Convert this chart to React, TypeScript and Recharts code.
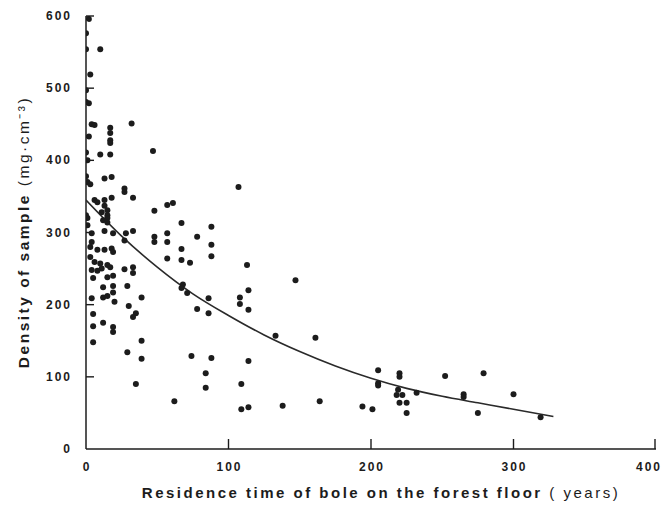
import React from 'react';
import { ScatterChart, Scatter, XAxis, YAxis } from 'recharts';

// residence time (years) and density (mg/cm3) of each sample
const sampleYears = [
  2, 0, 0, 10, 3, 0, 0, 2, 4, 6, 2, 32, 17, 17, 17, 17, 47, 0, 10, 17,
  1, 0, 1, 3, 13, 18, 27, 27, 33, 57, 61, 6, 8, 13, 13, 15, 15, 15, 18, 11,
  0, 1, 48, 1, 12, 15, 13, 4, 19, 28, 33, 48, 48, 57, 57, 27, 4, 3, 8, 13,
  18, 19, 3, 57, 6, 10, 11, 15, 17, 4, 8, 27, 33, 33, 5, 15, 19, 12, 19, 29,
  4, 12, 15, 19, 39, 20, 30, 5, 35, 33, 12, 5, 19, 19, 5, 39, 29, 39, 35,
  67, 88, 78, 67, 88, 67, 73, 88, 113, 68, 67, 71, 86, 78, 86, 114, 108, 108, 114,
  107, 133, 74, 88, 114, 84, 84, 109, 62, 109, 114, 147, 161, 138, 164, 194, 201,
  205, 205, 205, 220, 220, 219, 218, 222, 220, 225, 225, 232, 252, 279, 265, 265,
  300, 275, 319,
];
const sampleDensity = [
  596, 576, 554, 554, 519, 497, 481, 479, 450, 449, 433, 451, 445, 438, 428, 424, 413, 411, 408, 408,
  400, 378, 370, 367, 375, 377, 361, 356, 348, 338, 341, 345, 342, 345, 337, 331, 324, 320, 348, 328,
  324, 320, 330, 310, 317, 314, 302, 299, 299, 299, 302, 294, 287, 299, 287, 289, 287, 280, 276, 276,
  278, 273, 266, 264, 259, 257, 250, 255, 252, 248, 247, 249, 252, 244, 237, 238, 240, 224, 226, 226,
  209, 210, 212, 217, 210, 204, 198, 187, 188, 183, 175, 170, 169, 162, 148, 150, 134, 125, 90,
  313, 308, 294, 277, 283, 262, 258, 267, 255, 228, 223, 216, 209, 194, 188, 220, 210, 201, 193,
  363, 157, 129, 126, 122, 105, 85, 90, 66, 55, 58, 234, 154, 60, 66, 59, 55,
  109, 91, 88, 105, 100, 82, 75, 75, 64, 64, 50, 78, 101, 105, 76, 72,
  76, 50, 44,
];

// fitted decay curve, read at regular points along the drawn line
const curveYears = [0, 25, 50, 75, 100, 125, 150, 175, 200, 225, 250, 275, 300, 328];
const curveDensity = [345, 295, 252, 215, 185, 158, 135, 115, 98, 84, 73, 64, 55, 45];

const xTicks = [0, 100, 200, 300, 400];
const yTicks = [0, 100, 200, 300, 400, 500, 600];

const samples = sampleYears.map((t, i) => ({ t, v: sampleDensity[i] }));
const curve = curveYears.map((t, i) => ({ t, v: curveDensity[i] }));

const INK = '#1c1c1c';
const FONT = '"Liberation Sans", Arial, Helvetica, sans-serif';

const YTick = (props: any) => {
  const { x, y, payload } = props;
  return (
    <g>
      {payload.value > 0 && (
        <line x1={x} x2={x + 8} y1={y} y2={y} stroke={INK} strokeWidth={1.4} />
      )}
      <text
        x={x - 14}
        y={y}
        dy={4}
        textAnchor="end"
        fontFamily={FONT}
        fontWeight={700}
        fontSize={12}
        letterSpacing={2}
        fill={INK}
      >
        {payload.value}
      </text>
    </g>
  );
};

const XTick = (props: any) => {
  const { x, y, payload } = props;
  // the last label sits against the right edge of the figure
  const shift = payload.value === 400 ? -6 : 1;
  return (
    <g>
      {payload.value > 0 && (
        <line x1={x} x2={x} y1={y} y2={y - 10} stroke={INK} strokeWidth={1.4} />
      )}
      <text
        x={x + shift}
        y={y + 22}
        textAnchor="middle"
        fontFamily={FONT}
        fontWeight={700}
        fontSize={12}
        letterSpacing={2}
        fill={INK}
      >
        {payload.value}
      </text>
    </g>
  );
};

const YTitle = () => (
  <text
    transform="translate(29, 232) rotate(-90)"
    textAnchor="middle"
    fontFamily={FONT}
    fontSize={15.5}
    letterSpacing={2.5}
    fill={INK}
  >
    <tspan fontWeight={700}>Density of sample </tspan>
    <tspan fontWeight={400}>(mg·cm⁻³)</tspan>
  </text>
);

const XTitle = () => (
  <text
    x={381}
    y={498}
    textAnchor="middle"
    fontFamily={FONT}
    fontSize={15}
    letterSpacing={2.5}
    fill={INK}
  >
    <tspan fontWeight={700}>Residence time of bole on the forest floor </tspan>
    <tspan fontWeight={400}>( years)</tspan>
  </text>
);

const Dot = (props: any) => {
  const { cx, cy } = props;
  if (cx == null || cy == null) return null;
  return <circle cx={cx} cy={cy} r={3} fill={INK} />;
};

export default function App() {
  return (
    <div style={{ position: 'absolute', left: 0, top: 0, background: '#fff' }}>
      <ScatterChart
        width={667}
        height={505}
        margin={{ top: 16, right: 11, bottom: 26, left: 0 }}
      >
        <XAxis
          type="number"
          dataKey="t"
          domain={[0, 400]}
          ticks={xTicks}
          height={30}
          stroke={INK}
          strokeWidth={1.5}
          tickSize={0}
          tickMargin={0}
          tick={<XTick />}
          label={<XTitle />}
          allowDataOverflow
        />
        <YAxis
          type="number"
          dataKey="v"
          domain={[0, 600]}
          ticks={yTicks}
          width={86}
          stroke={INK}
          strokeWidth={1.5}
          tickSize={0}
          tickMargin={0}
          tick={<YTick />}
          label={<YTitle />}
          allowDataOverflow
        />
        <Scatter
          data={curve}
          line={{ stroke: '#2a2a2a', strokeWidth: 1.6 }}
          lineJointType="monotoneX"
          shape={() => null}
          isAnimationActive={false}
        />
        <Scatter data={samples} shape={<Dot />} isAnimationActive={false} />
      </ScatterChart>
    </div>
  );
}
